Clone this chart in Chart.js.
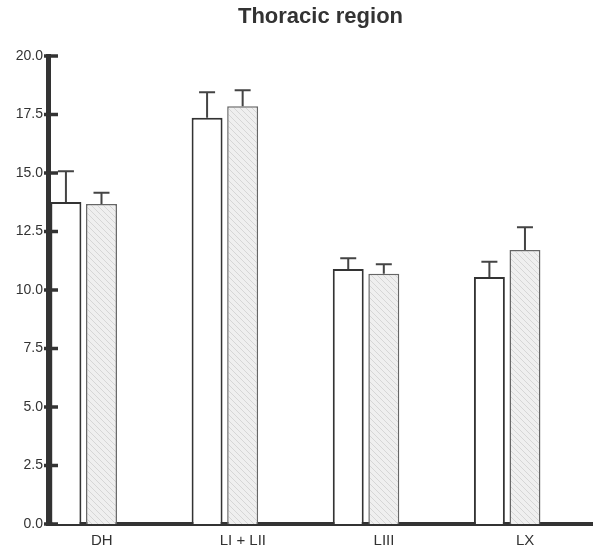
<!DOCTYPE html>
<html>
<head>
<meta charset="utf-8">
<script src="https://cdn.jsdelivr.net/npm/chart.js@4/dist/chart.umd.min.js"></script>
<style>
  html, body { margin: 0; padding: 0; background: #fff; }
  #wrap { width: 593px; height: 556px; }
</style>
</head>
<body>
<div id="wrap"><canvas id="chart" width="593" height="556"></canvas></div>
<script>
// values
const categories = ['DH', 'LI + LII', 'LIII', 'LX'];
const openValues = [13.76, 17.36, 10.90, 10.56];
const openErrors = [1.32, 1.09, 0.46, 0.65];
const greyValues = [13.68, 17.85, 10.69, 11.71];
const greyErrors = [0.48, 0.69, 0.41, 0.97];
const yTicks = [0, 2.5, 5, 7.5, 10, 12.5, 15, 17.5, 20];

function hatchPattern() {
    const c = document.createElement('canvas');
    c.width = 6; c.height = 6;
    const g = c.getContext('2d');
    g.fillStyle = '#efefef';
    g.fillRect(0, 0, 6, 6);
    g.strokeStyle = '#d6d6d6';
    g.lineWidth = 1;
    g.beginPath();
    g.moveTo(0, 0); g.lineTo(6, 6);
    g.moveTo(-3, 3); g.lineTo(3, 9);
    g.moveTo(3, -3); g.lineTo(9, 3);
    g.stroke();
    return g.createPattern(c, 'repeat');
}

// up-only error bars with caps
const errorBars = {
    id: 'errorBars',
    afterDatasetsDraw(chart) {
        const ctx = chart.ctx;
        const y = chart.scales.y;
        ctx.save();
        ctx.strokeStyle = '#444';
        ctx.lineWidth = 2;
        chart.data.datasets.forEach((ds, di) => {
            const meta = chart.getDatasetMeta(di);
            meta.data.forEach((bar, i) => {
                const v = ds.data[i].y;
                const top = y.getPixelForValue(v + ds.errors[i]);
                ctx.beginPath();
                ctx.moveTo(bar.x, bar.y);
                ctx.lineTo(bar.x, top);
                ctx.moveTo(bar.x - 8, top);
                ctx.lineTo(bar.x + 8, top);
                ctx.stroke();
            });
        });
        ctx.restore();
    }
};

// y tick marks crossing the axis line
const yTickMarks = {
    id: 'yTickMarks',
    afterDraw(chart) {
        const ctx = chart.ctx;
        const y = chart.scales.y;
        const left = chart.chartArea.left;
        ctx.save();
        ctx.strokeStyle = '#333';
        ctx.lineWidth = 3.5;
        yTicks.forEach(t => {
            const py = y.getPixelForValue(t);
            ctx.beginPath();
            ctx.moveTo(left - 4, py);
            ctx.lineTo(left + 10, py);
            ctx.stroke();
        });
        ctx.restore();
    }
};

const toPoints = vals => vals.map((v, i) => ({ x: i, y: v }));

new Chart(document.getElementById('chart').getContext('2d'), {
    type: 'bar',
    data: {
        datasets: [{
            data: toPoints(openValues),
            errors: openErrors,
            backgroundColor: '#ffffff',
            borderColor: '#333',
            borderWidth: 2,
            borderSkipped: 'bottom'
        }, {
            data: toPoints(greyValues),
            errors: greyErrors,
            backgroundColor: hatchPattern(),
            borderColor: '#666',
            borderWidth: 1.5,
            borderSkipped: 'bottom'
        }]
    },
    options: {
        responsive: false,
        animation: false,
        categoryPercentage: 0.504,
        barPercentage: 0.87,
        layout: { padding: { left: 0, right: 0, top: 0, bottom: 0 } },
        plugins: {
            legend: { display: false },
            tooltip: { enabled: false },
            title: {
                display: true,
                text: 'Thoracic region',
                fullSize: false,
                color: '#333',
                font: { family: 'Liberation Sans, Arial, sans-serif', size: 22, weight: 'bold' },
                padding: { top: 4, bottom: 25.6 }
            }
        },
        scales: {
            x: {
                type: 'linear',
                offset: false,
                min: -0.253,
                max: 3.608,
                grid: { display: false, drawTicks: false, offset: false },
                border: { display: true, color: '#333', width: 4 },
                afterBuildTicks: s => { s.ticks = categories.map((c, i) => ({ value: i })); },
                afterFit: s => { s.height = 32; },
                ticks: {
                    padding: 8,
                    labelOffset: 18,
                    color: '#333',
                    font: { family: 'Liberation Sans, Arial, sans-serif', size: 15 },
                    callback: v => categories[v]
                }
            },
            y: {
                min: 0,
                max: 20,
                grid: { display: false, drawTicks: false },
                border: { display: true, color: '#333', width: 5 },
                afterBuildTicks: s => { s.ticks = yTicks.map(v => ({ value: v })); },
                afterFit: s => { s.width = 48; },
                ticks: {
                    padding: 5,
                    color: '#333',
                    font: { family: 'Liberation Sans, Arial, sans-serif', size: 14 },
                    callback: v => v.toFixed(1)
                }
            }
        }
    },
    plugins: [errorBars, yTickMarks]
});
</script>
</body>
</html>
